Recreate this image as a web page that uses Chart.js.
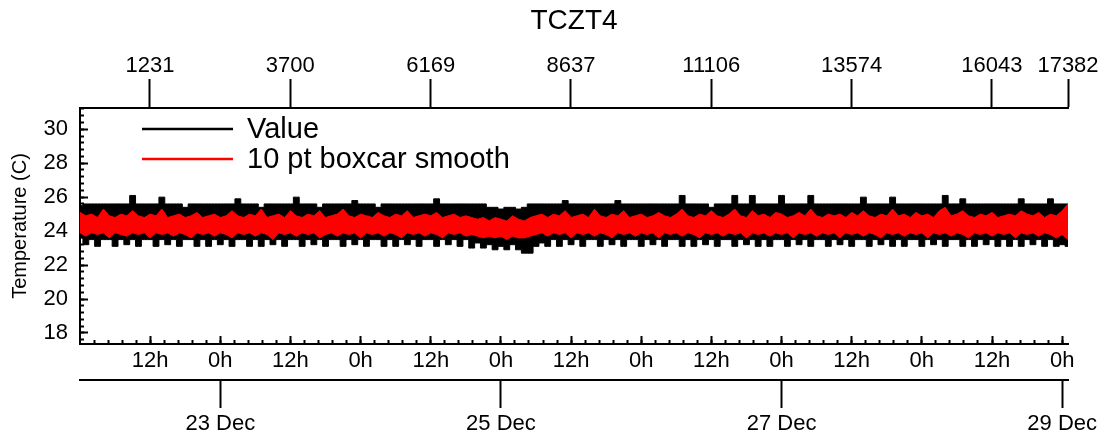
<!DOCTYPE html>
<html>
<head>
<meta charset="utf-8">
<title>TCZT4</title>
<script src="https://cdn.jsdelivr.net/npm/chart.js@4.4.1/dist/chart.umd.min.js"></script>
<style>
  html, body { margin: 0; padding: 0; background: #fff; }
</style>
</head>
<body>
<canvas id="chart" width="1111" height="443"></canvas>
<script>
// ===== Data (hours since 22 Dec 0h, one sample per hour) =====
// "Value" is drawn as the band between its upper and lower envelope,
// same for the 10 pt boxcar smooth.
const VALUE_HI = [
  25.5, 25.6, 25.6, 25.6, 25.6, 25.6, 25.6, 25.6, 25.6, 26.1,
  25.6, 25.6, 25.6, 25.6, 26.0, 25.6, 25.6, 25.6, 25.4, 25.6,
  25.6, 25.6, 25.6, 25.6, 25.6, 25.6, 25.6, 25.9, 25.6, 25.6,
  25.6, 25.4, 25.6, 25.6, 25.6, 25.6, 25.6, 26.0, 25.6, 25.6,
  25.6, 25.4, 25.6, 25.6, 25.6, 25.6, 25.6, 25.8, 25.6, 25.6,
  25.6, 25.4, 25.6, 25.6, 25.6, 25.6, 25.6, 25.6, 25.6, 25.6,
  25.6, 25.9, 25.6, 25.6, 25.6, 25.6, 25.6, 25.6, 25.6, 25.6,
  25.4, 25.4, 25.3, 25.4, 25.4, 25.3, 25.4, 25.6, 25.6, 25.6,
  25.6, 25.6, 25.6, 25.8, 25.6, 25.6, 25.6, 25.6, 25.6, 25.6,
  25.6, 25.6, 25.8, 25.6, 25.6, 25.6, 25.6, 25.6, 25.6, 25.6,
  25.6, 25.6, 25.6, 26.1, 25.6, 25.6, 25.6, 25.6, 25.4, 25.6,
  25.6, 25.6, 26.1, 25.6, 25.6, 26.1, 25.6, 25.6, 25.6, 25.6,
  26.1, 25.6, 25.6, 25.6, 25.6, 26.1, 25.6, 25.6, 25.6, 25.6,
  25.6, 25.6, 25.6, 25.6, 26.0, 25.6, 25.6, 25.6, 25.6, 26.0,
  25.6, 25.6, 25.6, 25.6, 25.6, 25.6, 25.6, 25.6, 26.1, 25.6,
  25.6, 25.9, 25.6, 25.6, 25.6, 25.6, 25.6, 25.6, 25.6, 25.6,
  25.6, 25.9, 25.6, 25.6, 25.6, 25.6, 25.9, 25.6, 25.6, 25.6
];
const VALUE_LO = [
  23.6, 23.2, 23.5, 23.1, 23.5, 23.5, 23.1, 23.5, 23.2, 23.5,
  23.1, 23.5, 23.5, 23.1, 23.5, 23.2, 23.5, 23.1, 23.5, 23.5,
  23.1, 23.5, 23.1, 23.5, 23.2, 23.5, 23.1, 23.5, 23.5, 23.1,
  23.5, 23.1, 23.5, 23.2, 23.5, 23.1, 23.5, 23.5, 23.1, 23.5,
  23.2, 23.5, 23.1, 23.5, 23.5, 23.1, 23.5, 23.2, 23.5, 23.1,
  23.5, 23.5, 23.1, 23.5, 23.1, 23.5, 23.2, 23.5, 23.1, 23.5,
  23.5, 23.1, 23.5, 23.2, 23.5, 23.1, 23.5, 23.0, 23.3, 23.0,
  23.2, 22.9, 23.1, 22.9, 23.2, 22.9, 22.7, 22.7, 23.1, 23.3,
  23.1, 23.5, 23.1, 23.5, 23.2, 23.5, 23.1, 23.5, 23.5, 23.1,
  23.5, 23.2, 23.5, 23.1, 23.5, 23.5, 23.1, 23.5, 23.2, 23.5,
  23.1, 23.5, 23.5, 23.1, 23.5, 23.1, 23.5, 23.2, 23.5, 23.1,
  23.5, 23.5, 23.1, 23.5, 23.2, 23.5, 23.1, 23.5, 23.1, 23.5,
  23.5, 23.1, 23.5, 23.2, 23.5, 23.1, 23.5, 23.5, 23.1, 23.5,
  23.2, 23.5, 23.1, 23.5, 23.5, 23.1, 23.5, 23.2, 23.5, 23.1,
  23.5, 23.1, 23.5, 23.5, 23.1, 23.5, 23.2, 23.5, 23.1, 23.5,
  23.5, 23.1, 23.5, 23.1, 23.5, 23.2, 23.5, 23.1, 23.5, 23.1,
  23.5, 23.1, 23.5, 23.2, 23.5, 23.1, 23.5, 23.1, 23.2, 23.1
];
const SMOOTH_HI = [
  25.1, 24.9, 25.0, 24.8, 25.3, 24.9, 24.8, 25.0, 24.9, 25.2,
  24.9, 24.8, 25.0, 24.9, 25.3, 24.8, 24.9, 25.0, 24.8, 24.9,
  25.1, 24.8, 24.9, 25.0, 24.8, 24.9, 25.2, 24.9, 24.8, 25.0,
  24.9, 25.3, 24.8, 24.9, 25.0, 24.8, 25.2, 24.9, 24.8, 25.0,
  24.9, 25.2, 24.8, 24.9, 25.0, 25.3, 24.9, 24.8, 25.0, 24.9,
  24.8, 25.1, 24.9, 24.8, 25.0, 24.9, 25.2, 24.8, 24.9, 25.0,
  24.9, 25.1, 24.8, 24.9, 25.0, 24.8, 24.9, 24.8, 24.7, 24.8,
  24.6, 24.8, 24.7, 24.6, 24.9, 24.7, 24.6, 24.8, 24.9, 25.0,
  24.8, 25.0, 24.9, 25.2, 24.8, 24.9, 25.0, 24.8, 25.3, 24.9,
  24.8, 25.0, 24.9, 25.2, 24.8, 24.9, 25.0, 24.8, 24.9, 25.1,
  24.9, 24.8, 25.0, 25.3, 24.9, 24.8, 25.0, 24.9, 25.2, 24.9,
  24.8, 25.0, 25.3, 24.9, 24.8, 25.2, 24.9, 25.0, 24.8, 25.1,
  25.0, 24.8, 24.9, 25.1, 24.9, 25.3, 24.9, 24.8, 25.0, 24.9,
  25.0, 24.8, 25.1, 24.9, 25.2, 24.9, 24.8, 25.0, 24.9, 25.3,
  24.9, 25.0, 24.8, 25.1, 24.9, 25.0, 24.8, 25.2, 25.4, 24.9,
  25.0, 25.2, 24.9, 24.8, 25.0, 24.9, 25.1, 24.8, 24.9, 25.0,
  24.9, 25.2, 25.0, 24.9, 25.1, 24.8, 25.0, 24.9, 25.2, 25.6
];
const SMOOTH_LO = [
  23.9, 23.7, 23.9, 23.8, 23.9, 23.6, 23.9, 23.8, 23.7, 23.9,
  23.8, 23.9, 23.6, 23.9, 23.8, 23.9, 23.7, 23.9, 23.8, 23.6,
  23.9, 23.8, 23.9, 23.7, 23.9, 23.8, 23.6, 23.9, 23.8, 23.9,
  23.7, 23.9, 23.8, 23.5, 23.9, 23.8, 23.9, 23.7, 23.9, 23.8,
  23.9, 23.6, 23.8, 23.9, 23.7, 23.9, 23.8, 23.9, 23.6, 23.9,
  23.8, 23.9, 23.7, 23.9, 23.8, 23.6, 23.9, 23.8, 23.9, 23.7,
  23.9, 23.8, 23.6, 23.9, 23.8, 23.9, 23.7, 23.8, 23.7, 23.6,
  23.7, 23.6, 23.7, 23.5, 23.7, 23.6, 23.6, 23.7, 23.8, 23.9,
  23.7, 23.9, 23.8, 23.9, 23.6, 23.9, 23.8, 23.9, 23.7, 23.9,
  23.8, 23.6, 23.9, 23.8, 23.9, 23.7, 23.9, 23.8, 23.9, 23.6,
  23.9, 23.8, 23.9, 23.7, 23.9, 23.8, 23.6, 23.9, 23.8, 23.9,
  23.7, 23.9, 23.8, 23.9, 23.6, 23.9, 23.8, 23.9, 23.7, 23.9,
  23.8, 23.9, 23.6, 23.9, 23.8, 23.9, 23.7, 23.9, 23.8, 23.9,
  23.6, 23.9, 23.8, 23.9, 23.7, 23.9, 23.8, 23.6, 23.9, 23.8,
  23.9, 23.7, 23.9, 23.8, 23.9, 23.6, 23.9, 23.8, 23.9, 23.7,
  23.9, 23.8, 23.6, 23.9, 23.8, 23.9, 23.7, 23.9, 23.8, 23.9,
  23.6, 23.9, 23.8, 23.9, 23.7, 23.9, 23.8, 23.6, 23.8, 23.5
];
const SERIES_NAMES = ['Value', '10 pt boxcar smooth'];
const SERIES_COLORS = ['#000000', '#ff0000'];

// ===== Axis ticks =====
const X_MAX = 169;          // hours shown (22 Dec 0h .. 29 Dec ~1h)
const IDX_MAX = 17382;      // sample index at right edge
const Y_MIN = 17.35;
const Y_MAX = 31.25;
const HOUR_TICKS = [12, 24, 36, 48, 60, 72, 84, 96, 108, 120, 132, 144, 156, 168];
const HOUR_LABELS = ['12h', '0h', '12h', '0h', '12h', '0h', '12h', '0h', '12h', '0h', '12h', '0h', '12h', '0h'];
const DATE_TICKS = [24, 72, 120, 168];
const DATE_LABELS = ['23 Dec', '25 Dec', '27 Dec', '29 Dec'];
const INDEX_TICKS = [1231, 3700, 6169, 8637, 11106, 13574, 16043, 17382];
const Y_TICKS = [18, 20, 22, 24, 26, 28, 30];

// minor tick marks, IDL style
const HOUR_MINOR = [];
for (let h = 2.4; h < X_MAX; h += 2.4) HOUR_MINOR.push(h);
const Y_MINOR = [];
for (let v = 17.6; v < Y_MAX; v += 0.4) Y_MINOR.push(v);

const HOURS = VALUE_HI.map((_, i) => i);
const pts = arr => arr.map((v, i) => ({ x: HOURS[i], y: v }));

// ===== Helpers =====
const FONT = "'Liberation Sans', Arial, Helvetica, sans-serif";
Chart.defaults.font.family = FONT;
Chart.defaults.color = '#000';

function setTicks(values) {
  return scale => { scale.ticks = values.map(v => ({ value: v })); };
}
function fixSize(w, h) {
  return scale => {
    if (w != null) scale.width = w;
    if (h != null) scale.height = h;
    scale.paddingLeft = 0; scale.paddingRight = 0;
    scale.paddingTop = 0; scale.paddingBottom = 0;
  };
}
// tick-only axis sitting on the chart area edge (ticks point inward)
function tickAxis(axis, values, len, pos) {
  return {
    axis, type: 'linear', position: pos,
    min: axis === 'x' ? 0 : Y_MIN, max: axis === 'x' ? X_MAX : Y_MAX,
    afterBuildTicks: setTicks(values),
    afterFit: fixSize(),
    ticks: { display: false },
    border: { display: false },
    grid: { display: true, drawOnChartArea: false, tickLength: len, tickWidth: 2, tickColor: '#000' }
  };
}

// ===== Legend drawn inside the plot =====
const insideLegend = {
  id: 'insideLegend',
  afterDraw(chart) {
    const { ctx, chartArea } = chart;
    ctx.save();
    ctx.font = '29px ' + FONT;
    ctx.textBaseline = 'middle';
    SERIES_NAMES.forEach((name, i) => {
      const y = chartArea.top + 21 + i * 30;
      const x = chartArea.left + 62;
      ctx.strokeStyle = SERIES_COLORS[i];
      ctx.lineWidth = 2.5;
      ctx.beginPath();
      ctx.moveTo(x, y);
      ctx.lineTo(x + 91, y);
      ctx.stroke();
      ctx.fillStyle = '#000';
      ctx.fillText(name, x + 105, y + 1);
    });
    ctx.restore();
  }
};

const band = (label, data, color, fill, stepped) => ({
  label, data, fill, stepped,
  borderColor: color, backgroundColor: color,
  borderWidth: 1, pointRadius: 0, tension: 0,
  xAxisID: 'x', yAxisID: 'y'
});

new Chart(document.getElementById('chart'), {
  type: 'line',
  data: {
    datasets: [
      band(SERIES_NAMES[1], pts(SMOOTH_HI), SERIES_COLORS[1], '+1', false),
      band(SERIES_NAMES[1] + ' low', pts(SMOOTH_LO), SERIES_COLORS[1], false, false),
      band(SERIES_NAMES[0], pts(VALUE_HI), SERIES_COLORS[0], '+1', 'middle'),
      band(SERIES_NAMES[0] + ' low', pts(VALUE_LO), SERIES_COLORS[0], false, 'middle')
    ]
  },
  options: {
    responsive: false,
    animation: false,
    events: [],
    layout: { padding: { left: 0, right: 43, top: 0, bottom: 0 }, autoPadding: false },
    plugins: {
      legend: { display: false },
      tooltip: { enabled: false },
      title: {
        display: true, text: 'TCZT4', fullSize: false, color: '#000',
        font: { size: 28, weight: 'normal' },
        padding: { top: 4, bottom: 0 }
      }
    },
    scales: {
      x: {
        type: 'linear', position: 'bottom', weight: 0, min: 0, max: X_MAX,
        afterBuildTicks: setTicks(HOUR_TICKS),
        afterFit: fixSize(null, 36),
        grid: { display: false, drawTicks: false },
        border: { display: true, color: '#000', width: 2 },
        ticks: { padding: 4, maxRotation: 0, autoSkip: false, font: { size: 22 },
                 callback: (v, i) => HOUR_LABELS[i] }
      },
      xDate: {
        axis: 'x', type: 'linear', position: 'bottom', weight: 1, min: 0, max: X_MAX,
        afterBuildTicks: setTicks(DATE_TICKS),
        afterFit: fixSize(null, 63),
        grid: { display: true, drawOnChartArea: false, tickLength: 28, tickWidth: 2, tickColor: '#000' },
        border: { display: true, color: '#000', width: 2 },
        ticks: { padding: 3, maxRotation: 0, autoSkip: false, font: { size: 22 },
                 callback: (v, i) => DATE_LABELS[i] }
      },
      xTop: {
        axis: 'x', type: 'linear', position: 'top', min: 0, max: IDX_MAX,
        afterBuildTicks: setTicks(INDEX_TICKS),
        afterFit: fixSize(null, 70.4),
        grid: { display: true, drawOnChartArea: false, tickLength: 29, tickWidth: 2, tickColor: '#000' },
        border: { display: true, color: '#000', width: 2 },
        ticks: { padding: 0, maxRotation: 0, autoSkip: false, font: { size: 22 },
                 callback: v => String(v) }
      },
      y: {
        type: 'linear', position: 'left', min: Y_MIN, max: Y_MAX,
        afterBuildTicks: setTicks(Y_TICKS),
        afterFit: fixSize(80, null),
        grid: { display: false, drawTicks: false },
        border: { display: true, color: '#000', width: 2 },
        ticks: { padding: 12, font: { size: 22 }, callback: v => String(v) },
        title: { display: true, text: 'Temperature (C)', color: '#000',
                 font: { size: 20 }, padding: { top: 8, bottom: 0 } }
      },
      xMajor: tickAxis('x', HOUR_TICKS, -8, { y: Y_MIN }),
      xMinor: tickAxis('x', HOUR_MINOR, -4, { y: Y_MIN }),
      yMajor: tickAxis('y', Y_TICKS, -8, { x: 0 }),
      yMinor: tickAxis('y', Y_MINOR, -4, { x: 0 })
    }
  },
  plugins: [insideLegend]
});
</script>
</body>
</html>
